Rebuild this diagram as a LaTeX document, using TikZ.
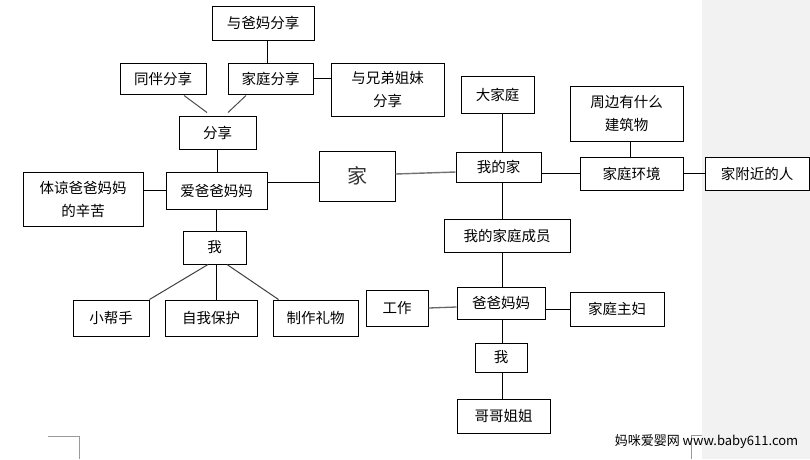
\documentclass[tikz,border=0pt]{standalone}
\usepackage{fontspec}
\setmainfont{Noto Sans CJK SC}
\usepackage{tikz}
\usetikzlibrary{positioning}
\tikzset{enlace/.style={line width=1pt}}
\definecolor{fondogris}{RGB}{242,242,242}

\begin{document}
\begin{tikzpicture}[x=1pt, y=-1pt,
    caja/.style={draw, line width=1pt, fill=white, inner sep=0pt, align=center,
                 font=\fontsize{14.5}{23}\selectfont}]
            \useasboundingbox (0,0) rectangle (810,459);
            \fill[white] (0,0) rectangle (702,459);
            \fill[fondogris] (702,0) rectangle (810,459);

            % rama izquierda: amor a los padres
            \node[caja, minimum width=102, minimum height=34] (ybmfx) at (263,23) {与爸妈分享};
            \node[caja, minimum width=86,  minimum height=31] (tbfx) at (163,78.5) {同伴分享};
            \node[caja, minimum width=85,  minimum height=31] (jtfx) at (270.5,78.5) {家庭分享};
            \node[caja, minimum width=113, minimum height=53] (xdjm) at (387.5,89.5) {与兄弟姐妹\\分享};
            \node[caja, minimum width=77,  minimum height=33] (fx) at (217.5,132.5) {分享};
            \node[caja, minimum width=101, minimum height=37] (abbmm) at (216.5,190.5) {爱爸爸妈妈};
            \node[caja, minimum width=120, minimum height=54] (tl) at (83,199) {体谅爸爸妈妈\\的辛苦};
            \node[caja, minimum width=63,  minimum height=33] (wo1) at (214.5,247.5) {我};
            \node[caja, minimum width=76,  minimum height=36] (xbs) at (111,318) {小帮手};
            \node[caja, minimum width=92,  minimum height=36] (zwbh) at (211,318) {自我保护};
            \node[caja, minimum width=85,  minimum height=36] (zzlw) at (315.5,318) {制作礼物};

            % centro
            \node[caja, minimum width=76, minimum height=50,
                  font=\fontsize{20}{24}\selectfont, text=black!80] (jia) at (357,176) {家};

            % rama derecha: mi casa
            \coordinate (eje) at (502,0);
            \node[caja, minimum width=73,  minimum height=37] (djt) at (497.5,94.5) {大家庭};
            \node[caja, minimum width=85,  minimum height=30] (wdj) at (498.5,167) {我的家};
            \node[caja, minimum width=113, minimum height=55] (zb) at (626.5,113.5) {周边有什么\\建筑物};
            \node[caja, minimum width=103, minimum height=33] (jthj) at (631.5,173.5) {家庭环境};
            \node[caja, minimum width=104, minimum height=33] (jfj) at (757,173.5) {家附近的人};
            \node[caja, minimum width=126, minimum height=33] (cy) at (507,235.5) {我的家庭成员};
            \node[caja, minimum width=62,  minimum height=36] (gz) at (397,308) {工作};
            \node[caja, minimum width=88,  minimum height=32] (bbmm) at (501,303) {爸爸妈妈};
            \node[caja, minimum width=94,  minimum height=34] (jtzf) at (617,309) {家庭主妇};
            \node[caja, minimum width=52,  minimum height=29] (wo2) at (501,357.5) {我};
            \node[caja, minimum width=93,  minimum height=34] (ggjj) at (503.5,416) {哥哥姐姐};

            \draw[enlace] ([xshift=4]ybmfx.south) -- ([xshift=4]ybmfx.south |- jtfx.north);
            \draw[enlace] (jtfx.east) -- (jtfx.east -| xdjm.west);
            \draw[enlace, black!70] ([xshift=21,yshift=-1]tbfx.south) -- ([xshift=-10.5,yshift=3]fx.north);
            \draw[enlace, black!70] ([xshift=-24.5,yshift=-1]jtfx.south) -- ([xshift=10.5,yshift=3]fx.north);
            \draw[enlace] (fx.south) -- (fx.south |- abbmm.north);
            \draw[enlace] (abbmm.west) -- (abbmm.west -| tl.east);
            \draw[enlace] ([yshift=8.5]abbmm.east) -- ([yshift=8.5]abbmm.east -| jia.west);
            \draw[enlace] (abbmm.south) -- (abbmm.south |- wo1.north);
            \draw[enlace, black!75] ([xshift=-6.5]wo1.south) -- (xbs.north east);
            \draw[enlace] ([xshift=1.5]wo1.south) -- ([xshift=1.5]wo1.south |- zwbh.north);
            \draw[enlace, black!75] ([xshift=12.5]wo1.south) -- ([xshift=6]zzlw.north west);

            \draw[enlace, black!55, line width=1.4pt] ([yshift=2]jia.east) -- ([yshift=-5]wdj.west);
            \draw[enlace] (djt.south -| eje) -- (wdj.north -| eje);
            \draw[enlace] (jthj.west -| wdj.east) -- (jthj.west);
            \draw[enlace] ([xshift=4]zb.south) -- ([xshift=4]zb.south |- jthj.north);
            \draw[enlace] (jthj.east) -- (jfj.west);
            \draw[enlace] (wdj.south -| eje) -- (cy.north -| eje);
            \draw[enlace] (cy.south -| eje) -- (bbmm.north -| eje);
            \draw[enlace, black!60, line width=1.3pt] (gz.east) -- ([yshift=-4]bbmm.west);
            \draw[enlace] (jtzf.west -| bbmm.east) -- (jtzf.west);
            \draw[enlace] (bbmm.south -| eje) -- (wo2.north -| eje);
            \draw[enlace] (wo2.south -| eje) -- (ggjj.north -| eje);

            % marcas de pagina
            \draw[black!40, line width=0.7pt] (48,436) -- (79,436) -- (79,459);
            \draw[black!40, line width=0.7pt] (691,459) -- (691,435) -- (702,435);
            \node[font=\fontsize{13}{15}\selectfont, inner sep=0pt] (marca) at (706.5,442) {妈咪爱婴网 www.baby611.com};
        \end{tikzpicture}
\end{document}
